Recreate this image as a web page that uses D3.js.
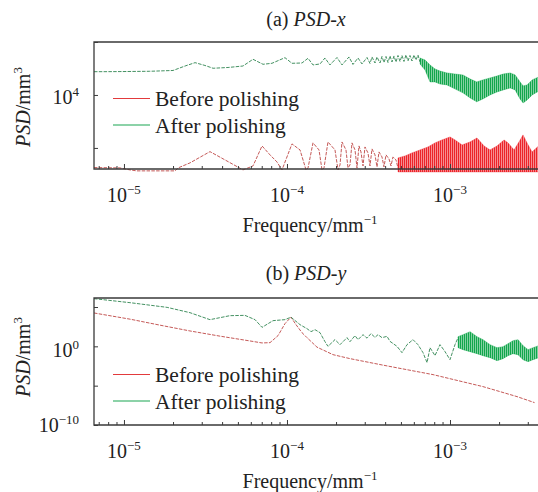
<!DOCTYPE html>
<html>
<head>
<meta charset="utf-8">
<script src="https://cdn.jsdelivr.net/npm/d3@7"></script>
<style>
  html, body { margin: 0; padding: 0; background: #fff; }
  svg { display: block; }
</style>
</head>
<body>
<svg id="chart" width="538" height="492"></svg>
<script>
// ---- PSD data: [frequency (mm^-1), PSD (mm^3)] ----
// Panel (a): PSD along x
const xBeforeLine = [
  [6.55e-6, 18.1], [9.45e-6, 17.6], [1.089e-5, 14.8], [1.20e-5, 13.6], [2.06e-5, 13.6],
  [2.15e-5, 17.6], [2.54e-5, 27.2], [3.37e-5, 72.4], [4.17e-5, 35.2], [5.37e-5, 14.8],
  [6.19e-5, 20.9], [7.03e-5, 119], [7.87e-5, 54.5], [8.68e-5, 29.6], [9.32e-5, 14.8],
  [1.073e-4, 142], [1.202e-4, 84.1], [1.309e-4, 14.8], [1.346e-4, 17.6], [1.444e-4, 155],
  [1.572e-4, 84.1], [1.64e-4, 14.8], [1.687e-4, 17.6], [1.784e-4, 168], [1.97e-4, 84.1],
  [2.056e-4, 14.8], [2.115e-4, 22.8], [2.175e-4, 168], [2.301e-4, 84.1], [2.367e-4, 17.6],
  [2.435e-4, 22.8], [2.505e-4, 155], [2.614e-4, 84.1], [2.688e-4, 17.6], [2.765e-4, 119],
  [2.844e-4, 70.6], [2.927e-4, 20.9], [3.01e-4, 109], [3.14e-4, 64.7], [3.23e-4, 20.9],
  [3.323e-4, 91.6], [3.467e-4, 54.5], [3.566e-4, 19.2], [3.668e-4, 70.6], [3.826e-4, 45.7],
  [3.936e-4, 19.2], [4.05e-4, 54.5], [4.225e-4, 38.5], [4.345e-4, 20.9], [4.47e-4, 45.7],
  [4.663e-4, 35.2], [4.797e-4, 17.6]
];
// dense high-frequency part: [frequency, min PSD, max PSD]
const xBeforeBand = [
  [4.797e-4, 12.4, 42.0], [5.30e-4, 12.4, 49.9], [5.845e-4, 12.4, 64.7], [6.546e-4, 12.4, 84.1],
  [7.33e-4, 12.4, 109], [8.09e-4, 12.4, 155], [8.93e-4, 12.4, 200], [1.0e-3, 12.4, 260],
  [1.073e-3, 12.4, 200], [1.185e-3, 12.4, 130], [1.327e-3, 12.4, 168], [1.464e-3, 12.4, 238],
  [1.617e-3, 12.4, 119], [1.76e-3, 12.4, 84.1], [1.943e-3, 12.4, 119], [2.145e-3, 12.4, 200],
  [2.27e-3, 12.4, 155], [2.47e-3, 12.4, 84.1], [2.65e-3, 12.4, 168], [2.805e-3, 12.4, 310],
  [2.968e-3, 12.4, 155], [3.185e-3, 12.4, 70.6], [3.5e-3, 12.4, 119]
];
const xAfterLine = [
  [6.55e-6, 7.57e4], [7.43e-6, 7.57e4], [9.45e-6, 7.64e4], [1.44e-5, 7.84e4], [2.0e-5, 8.41e4],
  [2.37e-5, 1.24e5], [2.73e-5, 1.66e5], [3.14e-5, 1.30e5], [3.52e-5, 1.02e5], [4.35e-5, 1.09e5],
  [5.37e-5, 1.24e5], [6.19e-5, 2.22e5], [7.13e-5, 1.44e5], [8.09e-5, 1.57e5], [9.72e-5, 2.56e5],
  [1.073e-4, 1.57e5], [1.236e-4, 1.61e5], [1.346e-4, 2.43e5], [1.444e-4, 1.36e5], [1.594e-4, 1.48e5],
  [1.71e-4, 2.49e5], [1.835e-4, 1.36e5], [2.027e-4, 2.60e5], [2.175e-4, 1.36e5], [2.401e-4, 2.72e5],
  [2.54e-4, 1.42e5], [2.727e-4, 2.49e5], [2.885e-4, 1.48e5], [3.097e-4, 2.60e5], [3.23e-4, 1.55e5],
  [3.323e-4, 2.72e5], [3.467e-4, 1.61e5], [3.566e-4, 2.72e5], [3.72e-4, 1.61e5], [3.826e-4, 2.84e5],
  [3.936e-4, 1.68e5], [4.05e-4, 2.84e5], [4.165e-4, 1.68e5], [4.284e-4, 2.97e5], [4.407e-4, 1.76e5],
  [4.533e-4, 2.97e5], [4.663e-4, 1.76e5], [4.797e-4, 3.10e5], [4.934e-4, 1.84e5], [5.075e-4, 3.10e5],
  [5.22e-4, 1.84e5], [5.37e-4, 3.23e5], [5.524e-4, 1.92e5], [5.682e-4, 3.10e5], [5.845e-4, 1.92e5],
  [6.012e-4, 3.23e5], [6.185e-4, 2.09e5], [6.362e-4, 3.23e5], [6.546e-4, 1.76e5]
];
const xAfterBand = [
  [6.546e-4, 1.48e5, 2.49e5], [7.03e-4, 8.8e4, 2.09e5], [7.54e-4, 3.1e4, 1.36e5], [8.09e-4, 3.1e4, 9.6e4],
  [8.68e-4, 2.6e4, 8.0e4], [9.58e-4, 2.4e4, 6.8e4], [1.07e-3, 1.7e4, 6.2e4], [1.20e-3, 1.2e4, 5.7e4],
  [1.33e-3, 7.7e3, 4.0e4], [1.46e-3, 5.5e3, 3.1e4], [1.59e-3, 7.1e3, 3.7e4], [1.76e-3, 1.0e4, 4.4e4],
  [1.94e-3, 1.3e4, 5.2e4], [2.12e-3, 1.55e4, 6.2e4], [2.34e-3, 1.84e4, 6.8e4], [2.51e-3, 1.55e4, 5.7e4],
  [2.69e-3, 7.1e3, 3.1e4], [2.81e-3, 5.0e3, 2.2e4], [2.97e-3, 6.5e3, 2.4e4], [3.19e-3, 1.0e4, 3.7e4],
  [3.5e-3, 1.4e4, 4.8e4]
];

// Panel (b): PSD along y
const yBeforeLine = [
  [6.55e-6, 1.75e4], [1.089e-5, 2.86e3], [1.663e-5, 494], [2.54e-5, 90.5], [3.88e-5, 19.8],
  [5.93e-5, 4.85], [7.03e-5, 2.70], [7.87e-5, 2.95], [8.81e-5, 22.9], [9.72e-5, 766],
  [1.058e-4, 5.13e3], [1.136e-4, 572], [1.236e-4, 55.1], [1.327e-4, 12.7], [1.528e-4, 0.791],
  [1.915e-4, 0.0881], [2.435e-4, 0.0274], [3.881e-4, 4.08e-3], [7.864e-4, 2.54e-4],
  [1.594e-3, 7.57e-6], [2.577e-3, 4.06e-7], [3.3e-3, 7.0e-8]
];
const yAfterLine = [
  [6.55e-6, 1.15e6], [1.089e-5, 3.57e5], [1.84e-5, 9.03e4], [2.54e-5, 1.91e4], [3.37e-5, 2.47e3],
  [4.47e-5, 7.96e3], [5.52e-5, 8.69e3], [6.37e-5, 2.47e3], [7.03e-5, 259], [8.21e-5, 1.85e3],
  [9.72e-5, 2.47e3], [1.058e-4, 5.13e3], [1.202e-4, 572], [1.327e-4, 177], [1.404e-4, 73.8],
  [1.485e-4, 132], [1.594e-4, 55.1], [1.71e-4, 3.95], [1.784e-4, 1.0], [1.97e-4, 7.10],
  [2.115e-4, 1.64], [2.334e-4, 12.7], [2.435e-4, 3.95], [2.614e-4, 22.9], [2.727e-4, 7.10],
  [2.927e-4, 30.7], [3.097e-4, 11.0], [3.275e-4, 41.1], [3.467e-4, 13.9], [3.617e-4, 30.7],
  [3.826e-4, 12.7], [4.107e-4, 18.7], [4.284e-4, 4.32], [4.73e-4, 1.0], [5.075e-4, 0.158],
  [5.45e-4, 1.64], [5.93e-4, 7.10], [6.36e-4, 1.64], [6.83e-4, 0.158], [7.23e-4, 8.49e-3],
  [7.54e-4, 0.684], [8.09e-4, 0.0658], [8.68e-4, 1.64], [9.32e-4, 0.212], [1.0e-3, 0.0204],
  [1.073e-3, 1.64], [1.12e-3, 12.7]
];
const yAfterBand = [
  [1.12e-3, 0.684, 17.1], [1.202e-3, 0.381, 30.7], [1.327e-3, 0.212, 73.8], [1.464e-3, 0.118, 17.1],
  [1.594e-3, 0.0658, 7.10], [1.76e-3, 0.0366, 1.64], [1.943e-3, 0.0152, 0.684], [2.115e-3, 0.0274, 0.916],
  [2.27e-3, 0.0658, 2.20], [2.435e-3, 0.118, 5.30], [2.614e-3, 0.0881, 7.10], [2.805e-3, 0.0204, 1.23],
  [3.01e-3, 0.0114, 0.381], [3.23e-3, 0.0204, 0.684], [3.5e-3, 0.0366, 1.23]
];

// Axis ticks and labels
const freqMajorTicks = [1e-5, 1e-4, 1e-3];
const freqTickLabels = [["10", "\u22125"], ["10", "\u22124"], ["10", "\u22123"]];
const psdXTicks = [1e2, 1e4, 1e6];
const psdXLabels = [[1e4, "10", "4"]];
const psdYTicks = [1e-10, 1e-5, 1e0, 1e5];
const psdYLabels = [[1e0, "10", "0"], [1e-10, "10", "\u221210"]];
const seriesNames = ["Before polishing", "After polishing"];
const panelTitles = [["(a) ", "PSD", "-", "x"], ["(b) ", "PSD", "-", "y"]];

// ---- drawing ----
const svg = d3.select("#chart");
const FONT = "'Liberation Serif', 'Times New Roman', serif";
const TXT = "#222";
const AXIS = "#3a3a3a";
const RED_LINE = "#bd4644", RED_FILL = "#ec2329", RED_KEY = "#e23a3c";
const GREEN_LINE = "#2f8550", GREEN_FILL = "#12a64c", GREEN_KEY = "#1aa552";

// vertical hatch used to render the densely oscillating parts of the spectra
const defs = svg.append("defs");
[["hatchRed", RED_FILL], ["hatchGreen", GREEN_FILL]].forEach(([id, c]) => {
  const p = defs.append("pattern").attr("id", id)
    .attr("patternUnits", "userSpaceOnUse").attr("width", 2).attr("height", 4);
  p.append("rect").attr("width", 1.2).attr("height", 4).attr("fill", c);
});

const x = d3.scaleLog().domain([6.55e-6, 3.5e-3]).range([94, 538.7]);

function supText(sel, px, py, base, sup, anchor, size, supSize) {
  const t = sel.append("text")
    .attr("x", px).attr("y", py)
    .attr("text-anchor", anchor)
    .attr("font-family", FONT).attr("font-size", size).attr("fill", TXT);
  t.append("tspan").text(base);
  t.append("tspan").attr("font-size", supSize).attr("dy", -8).text(sup);
  return t;
}

function drawPanel(cfg) {
  const g = svg.append("g");
  const y = d3.scaleLog().domain(cfg.yDomain).range([cfg.bottom, cfg.top]);
  const line = d3.line().x(d => x(d[0])).y(d => y(d[1]));
  const band = d3.area().x(d => x(d[0])).y0(d => y(d[1])).y1(d => y(d[2]));

  // series
  cfg.series.forEach(s => {
    if (s.band) {
      g.append("path").datum(s.band)
        .attr("d", band)
        .attr("fill", s.fill).attr("fill-opacity", 0.4);
      g.append("path").datum(s.band)
        .attr("d", band)
        .attr("fill", `url(#${s.hatch})`)
        .attr("stroke", s.fill).attr("stroke-width", 0.8).attr("stroke-opacity", 0.45);
    }
    g.append("path").datum(s.line)
      .attr("d", line)
      .attr("fill", "none")
      .attr("stroke", s.stroke).attr("stroke-width", 0.9)
      .attr("stroke-dasharray", "3.5,1.3");
  });

  // x axis ticks (pointing inward)
  const minor = x.ticks().filter(v => !freqMajorTicks.some(m => Math.abs(v / m - 1) < 1e-6));
  g.append("g").attr("transform", `translate(0,${cfg.bottom})`)
    .call(d3.axisBottom(x).tickValues(freqMajorTicks).tickSize(-5).tickFormat(""))
    .call(a => a.select(".domain").remove())
    .call(a => a.selectAll("line").attr("stroke", AXIS).attr("stroke-width", 1));
  g.append("g").attr("transform", `translate(0,${cfg.bottom})`)
    .call(d3.axisBottom(x).tickValues(minor).tickSize(-3).tickFormat(""))
    .call(a => a.select(".domain").remove())
    .call(a => a.selectAll("line").attr("stroke", AXIS).attr("stroke-width", 1));

  // y axis ticks (pointing inward)
  g.append("g").attr("transform", `translate(94,0)`)
    .call(d3.axisLeft(y).tickValues(cfg.yTicks).tickSize(-4).tickFormat(""))
    .call(a => a.select(".domain").remove())
    .call(a => a.selectAll("line").attr("stroke", AXIS).attr("stroke-width", 1));

  // frame: left, top, bottom
  g.append("path")
    .attr("d", `M540,${cfg.top}H94V${cfg.bottom}H540`)
    .attr("fill", "none").attr("stroke", AXIS).attr("stroke-width", 1.3);

  // x tick labels
  freqMajorTicks.forEach((v, i) => {
    supText(g, x(v), cfg.bottom + 33, freqTickLabels[i][0], freqTickLabels[i][1], "middle", 20, 13);
  });
  // x title
  supText(g, 310, cfg.bottom + 63, "Frequency/mm", "\u22121", "middle", 20, 13);

  // y tick labels
  cfg.yLabels.forEach(([v, b, s]) => {
    const t = g.append("text")
      .attr("x", 79).attr("y", y(v) + cfg.labelDy(v))
      .attr("text-anchor", "end")
      .attr("font-family", FONT).attr("font-size", 20).attr("fill", TXT);
    t.append("tspan").text(b);
    t.append("tspan").attr("font-size", 13).attr("dy", -8).text(s);
  });

  // y title
  const yt = g.append("text")
    .attr("transform", `translate(30,${cfg.yTitleY}) rotate(-90)`)
    .attr("text-anchor", "middle")
    .attr("font-family", FONT).attr("font-size", 20).attr("fill", TXT);
  yt.append("tspan").attr("font-style", "italic").text("PSD");
  yt.append("tspan").text("/mm");
  yt.append("tspan").attr("font-size", 13).attr("dy", -8).text("3");

  // panel title
  const tt = g.append("text")
    .attr("x", 306).attr("y", cfg.titleY)
    .attr("text-anchor", "middle")
    .attr("font-family", FONT).attr("font-size", 20).attr("fill", TXT);
  tt.append("tspan").text(cfg.title[0]);
  tt.append("tspan").attr("font-style", "italic").text(cfg.title[1]);
  tt.append("tspan").text(cfg.title[2]);
  tt.append("tspan").attr("font-style", "italic").text(cfg.title[3]);

  // legend
  const keys = [RED_KEY, GREEN_KEY];
  seriesNames.forEach((name, i) => {
    const ly = cfg.legendY + i * 26.5;
    g.append("line")
      .attr("x1", 113).attr("x2", 150).attr("y1", ly).attr("y2", ly)
      .attr("stroke", keys[i]).attr("stroke-width", 1.1);
    g.append("text")
      .attr("x", 155).attr("y", ly + 7.5)
      .attr("font-family", FONT).attr("font-size", 21.5).attr("fill", TXT)
      .text(name);
  });
}

drawPanel({
  top: 42, bottom: 169,
  yDomain: [16, 1e6],
  yTicks: psdXTicks,
  yLabels: psdXLabels,
  labelDy: () => 9,
  yTitleY: 107,
  titleY: 26,
  title: panelTitles[0],
  legendY: 98.5,
  series: [
    { line: xBeforeLine, band: xBeforeBand, stroke: RED_LINE, fill: RED_FILL, hatch: "hatchRed" },
    { line: xAfterLine, band: xAfterBand, stroke: GREEN_LINE, fill: GREEN_FILL, hatch: "hatchGreen" }
  ]
});

drawPanel({
  top: 298, bottom: 425,
  yDomain: [1e-10, 1.4e6],
  yTicks: psdYTicks,
  yLabels: psdYLabels,
  labelDy: v => (v === 1e-10 ? 7 : 11),
  yTitleY: 357,
  titleY: 280,
  title: panelTitles[1],
  legendY: 374.5,
  series: [
    { line: yBeforeLine, stroke: RED_LINE, fill: RED_FILL, hatch: "hatchRed" },
    { line: yAfterLine, band: yAfterBand, stroke: GREEN_LINE, fill: GREEN_FILL, hatch: "hatchGreen" }
  ]
});
</script>
</body>
</html>
